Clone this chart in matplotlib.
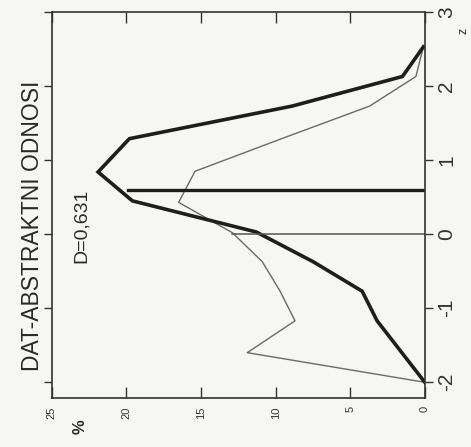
import numpy as np
import matplotlib.pyplot as plt

# z classes (vertical in the picture) and percentages (horizontal, reversed)
z_thick = [2.53, 2.13, 1.73, 1.29, 0.84, 0.45, 0.03, -0.37, -0.77, -1.17, -2.0]
p_thick = [0.1, 1.5, 8.9, 19.8, 21.9, 19.6, 11.3, 7.5, 4.2, 3.2, 0.0]

z_thin = [2.53, 2.13, 1.73, 1.29, 0.85, 0.43, 0.02, -0.37, -0.77, -1.17, -1.6, -2.0]
p_thin = [0.1, 0.6, 3.7, 9.6, 15.4, 16.5, 12.9, 10.9, 9.7, 8.7, 11.9, 0.0]

d_z = 0.6
d_p = 19.9
zero_p = 12.9

pct_ticks = [0, 5, 10, 15, 20, 25]
z_ticks = [-2, -1, 0, 1, 2, 3]

bg = "#f6f6f4"
ink = "#1e1e1e"

fig = plt.figure(figsize=(4.71, 4.47), dpi=100, facecolor=bg)
ax = fig.add_axes([0.110, 0.110, 0.792, 0.863], facecolor=bg)

ax.plot(p_thin, z_thin, color="#6a6a6a", lw=1.0)
ax.plot(p_thick, z_thick, color=ink, lw=2.6, solid_joinstyle="miter")
ax.plot([0, d_p], [d_z, d_z], color=ink, lw=2.4)
ax.plot([0, zero_p], [0, 0], color="#555555", lw=1.1)

ax.set_xlim(25, 0)
ax.set_ylim(-2.21, 2.93)

for s in ax.spines.values():
    s.set_color("#333333")
    s.set_linewidth(1.2)

ax.set_xticks(pct_ticks)
ax.set_xticklabels([str(t) for t in pct_ticks], rotation=90, fontsize=8,
                   family="Liberation Sans", color="#333333")
ax.tick_params(axis="x", direction="in", length=8, width=1.0, top=True,
               colors="#333333", pad=6)

ax.set_yticks(z_ticks)
ax.set_yticklabels([str(t) for t in z_ticks], rotation=90, fontsize=15,
                   family="Liberation Sans", va="center", color="#333333")
ax.yaxis.tick_right()
ax.tick_params(axis="y", direction="out", length=6, width=1.0, left=True,
               right=True, labelleft=False, labelright=True, colors="#333333", pad=3)

fig.text(0.068, 0.494, "DAT-ABSTRAKTNI ODNOSI", rotation=90, ha="center",
         va="center", fontsize=16.5, family="Liberation Sans", color="#2a2a2a")
fig.text(0.172, 0.494, "D=0,631", rotation=90, ha="center", va="center",
         fontsize=14, family="Liberation Sans", color="#2a2a2a")
fig.text(0.17, 0.045, "%", rotation=90, ha="center", va="center",
         fontsize=12, family="Liberation Sans", color="#2a2a2a", weight="bold")
fig.text(0.985, 0.93, "z", rotation=90, ha="center", va="center",
         fontsize=9, family="Liberation Sans", color="#2a2a2a")

fig.savefig("out.png", dpi=100, facecolor=bg)
